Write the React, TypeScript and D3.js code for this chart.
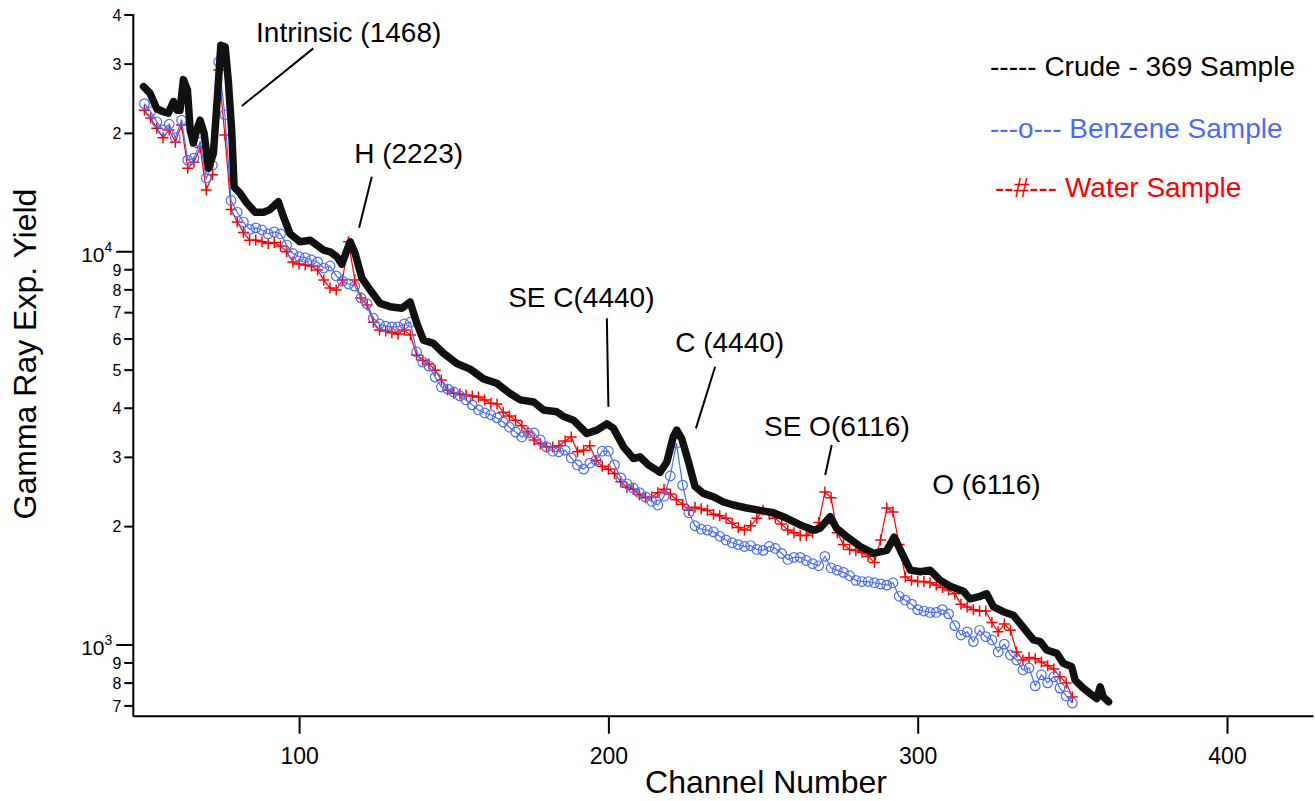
import { useEffect, useRef } from "react";
import * as d3 from "d3";

// channel sampling for the two marker series
const markerStart = 50;
const markerStep = 2;

// Benzene sample, channels 50..350 every 2
const benzeneValues = [
  23800, 22700, 21400, 20400, 21100, 19500, 21600, 17100, 17300, 19000,
  15400, 16600, 30400, 22300, 13500, 12600, 11900, 11400, 11500, 11360,
  11100, 11230, 11100, 10400, 9900, 9720, 9660, 9530, 9420, 9090,
  9200, 8680, 8420, 8280, 8180, 7630, 7370, 6780, 6550, 6470,
  6440, 6440, 6550, 6620, 5560, 5240, 5120, 4800, 4530, 4480,
  4400, 4300, 4200, 4080, 3960, 3890, 3850, 3780, 3690, 3580,
  3480, 3380, 3460, 3460, 3320, 3190, 3110, 3100, 3130, 2990,
  2870, 2800, 2900, 2950, 3110, 3110, 2870, 2660, 2570, 2510,
  2440, 2380, 2320, 2270, 2390, 2690, 3260, 2550, 2170, 2010,
  1970, 1960, 1940, 1890, 1850, 1820, 1800, 1780, 1790, 1750,
  1740, 1780, 1760, 1710, 1650, 1670, 1670, 1640, 1610, 1590,
  1680, 1570, 1550, 1530, 1500, 1460, 1450, 1450, 1440, 1430,
  1420, 1440, 1330, 1300, 1270, 1230, 1220, 1210, 1210, 1230,
  1200, 1120, 1060, 1080, 1020, 1090, 1050, 1030, 960, 1005,
  943, 916, 864, 874, 787, 840, 801, 830, 777, 742,
  712,
];

// Water sample, channels 50..350 every 2
const waterValues = [
  22900, 21900, 20600, 19500, 20400, 19000, 21000, 16300, 16900, 18400,
  14350, 15700, 29000, 19800, 12800, 11900, 11200, 10700, 10700, 10600,
  10500, 10550, 10350, 10000, 9420, 9310, 9250, 9200, 8990, 8470,
  8090, 7990, 8470, 10600, 8470, 7630, 7320, 6620, 6320, 6290,
  6220, 6180, 6320, 6140, 5460, 5300, 5180, 5000, 4720, 4450,
  4370, 4350, 4320, 4300, 4270, 4200, 4120, 4100, 3910, 3820,
  3730, 3610, 3480, 3320, 3250, 3190, 3190, 3210, 3300, 3380,
  3100, 3130, 3210, 2950, 2850, 2800, 2730, 2600, 2520, 2490,
  2410, 2370, 2380, 2440, 2490, 2420, 2340, 2280, 2200, 2240,
  2220, 2200, 2150, 2130, 2100, 2040, 1990, 1960, 2010, 2100,
  2200, 2150, 2100, 2030, 1960, 1930, 1900, 1900, 1930, 2050,
  2450, 2370, 1930, 1800, 1750, 1740, 1720, 1680, 1620, 1850,
  2230, 2180, 1800, 1490, 1460, 1450, 1450, 1440, 1420, 1400,
  1380, 1350, 1270, 1250, 1230, 1220, 1220, 1140, 1080, 1130,
  1090, 960, 916, 930, 922, 905, 885, 869, 830, 801,
  738,
];

// Crude - 369 sample (thick line)
const crudeChannels = [
  49.7, 51.8, 54.0, 56.1, 57.7, 59.4, 60.5, 61.5, 62.6, 63.9,
  64.8, 65.8, 66.9, 68.0, 69.3, 70.7, 72.3, 73.6, 74.7, 76.1,
  77.1, 78.2, 79.0, 80.9, 83.1, 85.8, 88.5, 90.6, 93.3, 94.9,
  97.1, 100.3, 103.6, 105.7, 107.9, 110.0, 112.2, 113.8, 116.5, 118.1,
  120.3, 123.0, 126.2, 129.4, 133.2, 135.9, 138.1, 140.2, 143.4, 146.7,
  151.0, 155.3, 159.6, 163.9, 168.2, 171.5, 175.8, 179.0, 183.3, 185.5,
  188.7, 193.0, 196.3, 199.5, 201.6, 204.9, 208.1, 210.2, 212.9, 216.7,
  218.9, 221.0, 222.1, 223.7, 225.9, 228.0, 230.7, 234.0, 237.2, 240.4,
  244.7, 249.0, 253.3, 257.7, 262.0, 266.3, 268.4, 271.7, 273.8, 277.1,
  281.4, 285.7, 290.0, 292.4, 294.9, 297.6, 300.8, 304.0, 307.3, 310.5,
  314.8, 316.9, 320.2, 322.3, 324.5, 327.7, 330.9, 333.1, 335.3, 337.4,
  339.6, 341.7, 345.0, 347.1, 349.8, 350.9, 353.6, 355.7, 357.9, 359.0,
  360.0, 361.7,
];
const crudeValues = [
  26300, 25300, 23100, 22700, 22500, 24100, 22900, 22900, 27400, 25800,
  20400, 18900, 20400, 21600, 20000, 16300, 17800, 24800, 33500, 33200,
  27300, 20400, 14600, 14100, 13300, 12600, 12600, 12800, 13400, 12300,
  11100, 10600, 10700, 10400, 10100, 10000, 9710, 9300, 10600, 9910,
  8570, 7990, 7390, 7250, 7180, 7450, 6570, 5960, 5850, 5520,
  5200, 5030, 4750, 4630, 4360, 4200, 4150, 3960, 3920, 3810,
  3730, 3450, 3520, 3650, 3560, 3190, 2980, 3010, 2870, 2750,
  2920, 3390, 3520, 3350, 2920, 2530, 2430, 2380, 2310, 2270,
  2230, 2200, 2170, 2100, 2020, 1960, 1980, 2120, 1980, 1885,
  1780, 1710, 1740, 1880, 1710, 1550, 1535, 1550, 1460, 1410,
  1370, 1310, 1330, 1350, 1250, 1215, 1190, 1135, 1080, 1030,
  1020, 971, 952, 898, 880, 814, 776, 753, 731, 783,
  738, 717,
];

const xTicks = [100, 200, 300, 400];
const yMajorTicks = [1000, 10000];
const yMinorTicks = [
  700, 800, 900, 2000, 3000, 4000, 5000, 6000, 7000, 8000, 9000, 20000,
  30000, 40000,
];

// peak annotations: label, text anchor [channel, value], leader line ends
const peakLabels = [
  "Intrinsic (1468)",
  "H (2223)",
  "SE C(4440)",
  "C (4440)",
  "SE O(6116)",
  "O (6116)",
];
const peakTextAt = [
  [86.1, 34140],
  [117.8, 16810],
  [167.6, 7235],
  [221.6, 5568],
  [250.3, 3400],
  [304.7, 2421],
];
const peakLines = [
  [[104.6, 32900], [81.5, 23480]],
  [[123.5, 15510], [119.4, 11510]],
  [[199.5, 6770], [200.0, 4036]],
  [[234.5, 5100], [228.3, 3556]],
  [[272.2, 3225], [270.1, 2705]],
  null,
];

const legendLabels = [
  "----- Crude - 369 Sample",
  "---o--- Benzene Sample",
  "--#--- Water Sample",
];
const legendColors = ["#000000", "#4a6cf5", "#ff0000"];

const FONT = "'Liberation Sans', Arial, Helvetica, sans-serif";

function App() {
  const svgRef = useRef<SVGSVGElement>(null);

  useEffect(() => {
    const svg = d3.select(svgRef.current);
    svg.selectAll("*").remove();

    const x = d3.scaleLinear().domain([46.4, 427.8]).range([133.3, 1313]);
    const y = d3.scaleLog().domain([661, 40000]).range([715.7, 15]);

    const benzene = benzeneValues.map((v, i) => ({
      c: markerStart + i * markerStep,
      v,
    }));
    const water = waterValues.map((v, i) => ({
      c: markerStart + i * markerStep,
      v,
    }));
    const crude = crudeValues.map((v, i) => ({ c: crudeChannels[i], v }));

    const line = d3
      .line<{ c: number; v: number }>()
      .x((d) => x(d.c))
      .y((d) => y(d.v));

    // water: thin red line + crosses
    svg
      .append("path")
      .datum(water)
      .attr("fill", "none")
      .attr("stroke", "#ff0000")
      .attr("stroke-width", 1.2)
      .attr("d", line);
    svg
      .append("g")
      .selectAll("path")
      .data(water)
      .enter()
      .append("path")
      .attr("transform", (d) => `translate(${x(d.c)},${y(d.v)})`)
      .attr("d", "M-5.5,0H5.5M0,-5.5V5.5")
      .attr("stroke", "#ff0000")
      .attr("stroke-width", 1.5);

    // benzene: thin blue line + open circles
    svg
      .append("path")
      .datum(benzene)
      .attr("fill", "none")
      .attr("stroke", "#4a6cf5")
      .attr("stroke-width", 1.2)
      .attr("d", line);
    svg
      .append("g")
      .selectAll("circle")
      .data(benzene)
      .enter()
      .append("circle")
      .attr("cx", (d) => x(d.c))
      .attr("cy", (d) => y(d.v))
      .attr("r", 4.8)
      .attr("fill", "none")
      .attr("stroke", "#4a6cf5")
      .attr("stroke-width", 1.2);

    // crude: thick black line
    svg
      .append("path")
      .datum(crude)
      .attr("fill", "none")
      .attr("stroke", "#111")
      .attr("stroke-width", 7.5)
      .attr("stroke-linejoin", "round")
      .attr("stroke-linecap", "round")
      .attr("d", line);

    // x axis
    const xAxis = svg
      .append("g")
      .attr("transform", `translate(0,${y.range()[0]})`)
      .call(
        d3
          .axisBottom(x)
          .tickValues(xTicks)
          .tickSize(18)
          .tickSizeOuter(0)
          .tickPadding(14),
      );
    xAxis.select(".domain").attr("stroke-width", 2);
    xAxis.selectAll(".tick line").attr("stroke-width", 2);
    xAxis
      .selectAll("text")
      .attr("font-family", FONT)
      .attr("font-size", 23)
      .attr("fill", "#000");

    // y axis
    const yAxis = svg.append("g");
    yAxis
      .append("line")
      .attr("x1", x.range()[0])
      .attr("x2", x.range()[0])
      .attr("y1", y.range()[1] - 1)
      .attr("y2", y.range()[0] + 1)
      .attr("stroke", "#000")
      .attr("stroke-width", 2);
    yAxis
      .selectAll(".minor")
      .data(yMinorTicks)
      .enter()
      .append("line")
      .attr("x1", x.range()[0] - 9)
      .attr("x2", x.range()[0])
      .attr("y1", (d) => y(d))
      .attr("y2", (d) => y(d))
      .attr("stroke", "#000")
      .attr("stroke-width", 2);
    yAxis
      .selectAll(".minorlbl")
      .data(yMinorTicks)
      .enter()
      .append("text")
      .attr("x", x.range()[0] - 12)
      .attr("y", (d) => y(d))
      .attr("dy", "0.36em")
      .attr("text-anchor", "end")
      .attr("font-family", FONT)
      .attr("font-size", 16)
      .text((d) => String(d / Math.pow(10, Math.floor(Math.log10(d)))));
    yAxis
      .selectAll(".major")
      .data(yMajorTicks)
      .enter()
      .append("line")
      .attr("x1", x.range()[0] - 17)
      .attr("x2", x.range()[0])
      .attr("y1", (d) => y(d))
      .attr("y2", (d) => y(d))
      .attr("stroke", "#000")
      .attr("stroke-width", 2);
    const majorLbl = yAxis
      .selectAll(".majorlbl")
      .data(yMajorTicks)
      .enter()
      .append("text")
      .attr("x", x.range()[0] - 21)
      .attr("y", (d) => y(d) + 10)
      .attr("text-anchor", "end")
      .attr("font-family", FONT)
      .attr("font-size", 21);
    majorLbl.append("tspan").text("10");
    majorLbl
      .append("tspan")
      .attr("dy", -10)
      .attr("font-size", 14)
      .text((d) => String(Math.round(Math.log10(d))));

    // axis titles
    svg
      .append("text")
      .attr("x", 766)
      .attr("y", 793)
      .attr("text-anchor", "middle")
      .attr("font-family", FONT)
      .attr("font-size", 32)
      .text("Channel Number");
    svg
      .append("text")
      .attr("transform", "translate(36,354) rotate(-90)")
      .attr("text-anchor", "middle")
      .attr("font-family", FONT)
      .attr("font-size", 32)
      .text("Gamma Ray Exp. Yield");

    // peak annotations
    peakLabels.forEach((label, i) => {
      svg
        .append("text")
        .attr("x", x(peakTextAt[i][0]))
        .attr("y", y(peakTextAt[i][1]))
        .attr("font-family", FONT)
        .attr("font-size", 28)
        .text(label);
      const seg = peakLines[i];
      if (seg) {
        svg
          .append("line")
          .attr("x1", x(seg[0][0]))
          .attr("y1", y(seg[0][1]))
          .attr("x2", x(seg[1][0]))
          .attr("y2", y(seg[1][1]))
          .attr("stroke", "#000")
          .attr("stroke-width", 2);
      }
    });

    // legend
    const legendY = [76, 138, 197];
    const legendX = [990, 990, 995];
    legendLabels.forEach((label, i) => {
      svg
        .append("text")
        .attr("x", legendX[i])
        .attr("y", legendY[i])
        .attr("font-family", FONT)
        .attr("font-size", 28)
        .attr("fill", legendColors[i])
        .text(label);
    });
  }, []);

  return (
    <svg
      ref={svgRef}
      width={1315}
      height={801}
      style={{ position: "absolute", left: 0, top: 0, background: "#fff" }}
    ></svg>
  );
}

export default App;
